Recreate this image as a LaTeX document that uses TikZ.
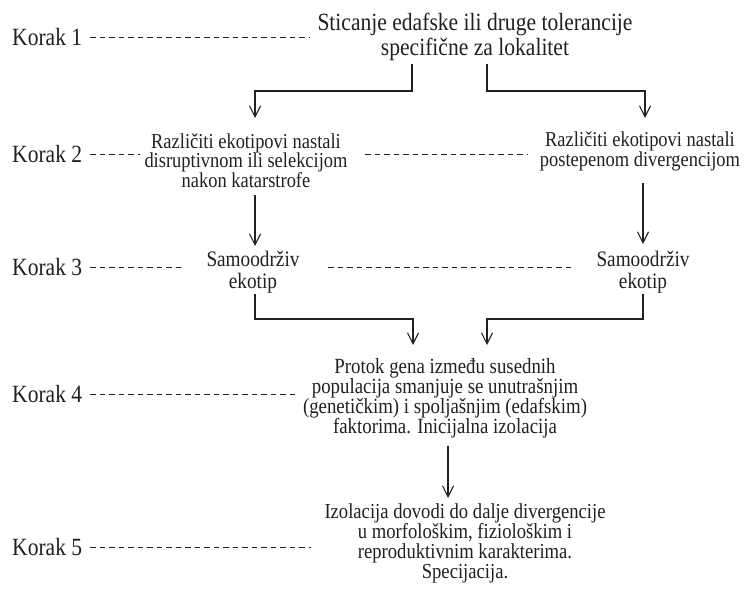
\documentclass[tikz,border=0pt]{standalone}
\usepackage{fontspec}
\setmainfont{Liberation Serif}[FakeStretch=0.87]
\usetikzlibrary{arrows.meta}
\definecolor{ink}{HTML}{231F20}
\newcommand{\fsz}[2]{\fontsize{#1}{#2}\selectfont\lineskiplimit=-100pt\lineskip=0pt}
\newlength\tmpw
\newcommand\fitsz[3]{\settowidth{\tmpw}{\fontsize{10}{12}\selectfont #3}\pgfmathsetmacro#1{10*#2/\tmpw}}
\begin{document}
\fitsz{\szK}{70}{Korak 1}%
\fitsz{\szT}{315}{Sticanje edafske ili druge tolerancije}%
\fitsz{\szB}{203}{disruptivnom ili selekcijom}%
\fitsz{\szC}{93}{Samoodrživ}%
\fitsz{\szD}{284}{(genetičkim) i spoljašnjim (edafskim)}%
\fitsz{\szE}{281}{Izolacija dovodi do dalje divergencije}%
\begin{tikzpicture}[x=1pt,y=1pt,
  every node/.style={inner sep=0pt,text=ink},
  korak/.style={anchor=west,font=\fsz{\szK}{28}},
  txt/.style={align=center},
  dsh/.style={draw=ink,line width=1pt,dash pattern=on 5.5pt off 4pt},
  arr/.style={draw=ink,line width=1.1pt,-{Straight Barb[length=11pt,width=11pt,line width=1.1pt]}}]
\useasboundingbox (0,0) rectangle (749,-591);
% Korak labels
\node[korak] (k1) at (12,-37.5) {Korak 1};
\node[korak] (k2) at (12,-154.5) {Korak 2};
\node[korak] (k3) at (12,-267) {Korak 3};
\node[korak] (k4) at (12,-394.5) {Korak 4};
\node[korak] (k5) at (12,-547.5) {Korak 5};
% content nodes
\node[txt,font=\fsz{\szT}{25}] (t1) at (475,-37) {Sticanje edafske ili druge tolerancije\\specifične za lokalitet};
\node[txt,font=\fsz{\szB}{19.5}] (b2l) at (246,-160.5) {Različiti ekotipovi nastali\\disruptivnom ili selekcijom\\nakon katarstrofe};
\node[txt,font=\fsz{\szB}{19.8}] (b2r) at (640,-151.5) {Različiti ekotipovi nastali\\postepenom divergencijom};
\node[txt,font=\fsz{\szC}{22}] (b3l) at (253,-272) {Samoodrživ\\ekotip};
\node[txt,font=\fsz{\szC}{22}] (b3r) at (643,-272) {Samoodrživ\\ekotip};
\node[txt,font=\fsz{\szD}{20}] (b4) at (445,-398) {Protok gena između susednih\\populacija smanjuje se unutrašnjim\\(genetičkim) i spoljašnjim (edafskim)\\faktorima. Inicijalna izolacija};
\node[txt,font=\fsz{\szE}{19.8}] (b5) at (465,-543.5) {Izolacija dovodi do dalje divergencije\\u morfološkim, fiziološkim i\\reproduktivnim karakterima.\\Specijacija.};
% dashed step lines
\coordinate (d1) at (310,-37.5);
\coordinate (d2) at (140,-154.5);
\coordinate (d3) at (184,-267);
\coordinate (d4) at (297,-394.5);
\coordinate (d5) at (311,-547.5);
\draw[dsh] ([xshift=8pt]k1.east) -- (d1);
\draw[dsh] ([xshift=8pt]k2.east) -- (d2);
\draw[dsh] ([xshift=8pt]k3.east) -- (d3);
\draw[dsh] ([xshift=8pt]k4.east) -- (d4);
\draw[dsh] ([xshift=8pt]k5.east) -- (d5);
\coordinate (m2a) at (365,-154.5);
\coordinate (m2b) at (528,-154.5);
\draw[dsh] (m2a) -- (m2b);
\coordinate (m3a) at (328,-267.5);
\coordinate (m3b) at (571,-267.5);
\draw[dsh] (m3a) -- (m3b);
% connectors
\coordinate (s1l) at (412,-64);
\coordinate (s1r) at (487,-64);
\coordinate (j1) at (0,-91);
\coordinate (e2l) at (255,-118);
\coordinate (e2r) at (645,-118);
\draw[arr] (s1l) -- (s1l |- j1) -| (e2l);
\draw[arr] (s1r) -- (s1r |- j1) -| (e2r);
\coordinate (s2l) at (255,-195);
\coordinate (e3l) at (255,-246);
\coordinate (s2r) at (643,-183);
\coordinate (e3r) at (643,-244);
\draw[arr] (s2l) -- (e3l);
\draw[arr] (s2r) -- (e3r);
\coordinate (s3l) at (255,-294);
\coordinate (s3r) at (643,-294);
\coordinate (j3) at (0,-319);
\coordinate (e4l) at (413,-345);
\coordinate (e4r) at (487,-345);
\draw[arr] (s3l) -- (s3l |- j3) -| (e4l);
\draw[arr] (s3r) -- (s3r |- j3) -| (e4r);
\coordinate (s4) at (448,-446);
\coordinate (e5) at (448,-498);
\draw[arr] (s4) -- (e5);
\end{tikzpicture}
\end{document}
